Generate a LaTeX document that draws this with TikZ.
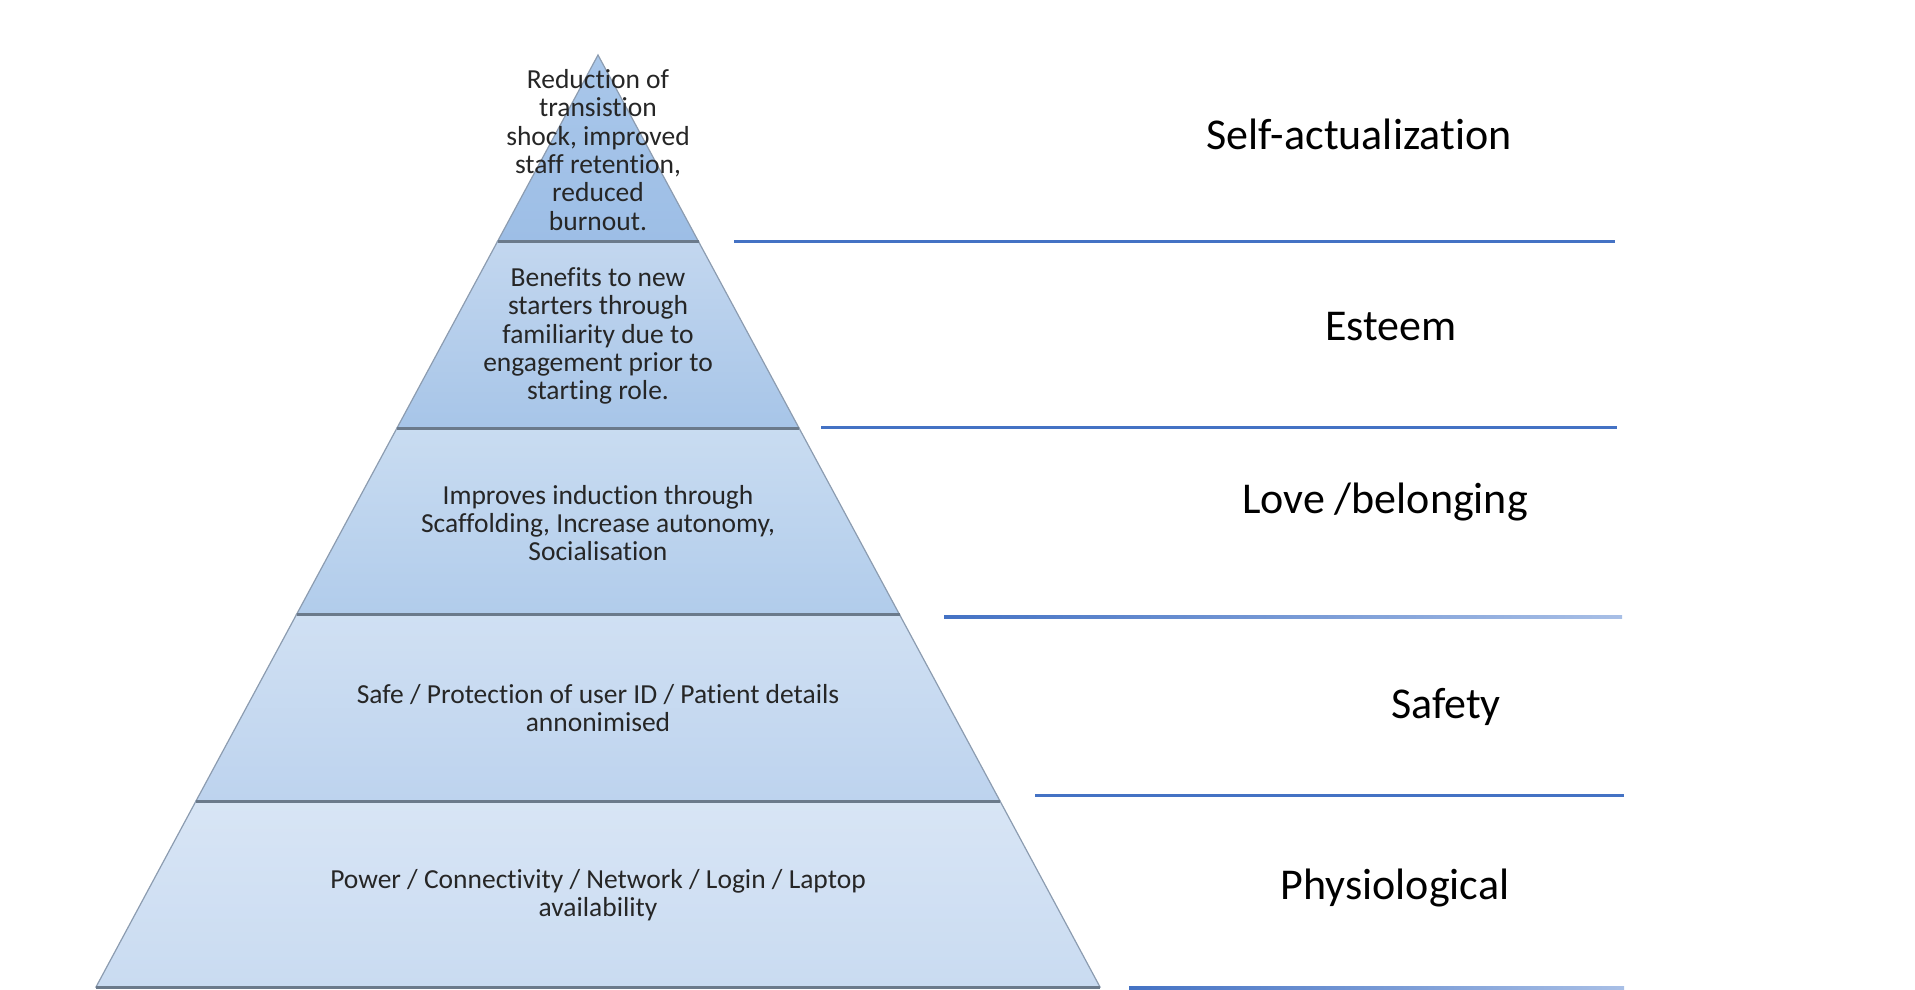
\documentclass[tikz,border=0pt]{standalone}
\usepackage{fontspec}
\setmainfont{Carlito}[Ligatures=NoCommon]
\usetikzlibrary{positioning}
\pgfdeclarelayer{nodelayer}
\pgfdeclarelayer{edgelayer}
\pgfsetlayers{edgelayer,nodelayer,main}
\definecolor{levelline}{HTML}{6B7A8B}
\definecolor{leveledge}{HTML}{8C9CB0}
\definecolor{ruleblue}{HTML}{4472C4}
\definecolor{rulefade}{HTML}{A8BFE6}
\definecolor{textgrey}{HTML}{262626}
\definecolor{topA}{HTML}{A9C7EA}
\definecolor{botA}{HTML}{9DBEE6}
\definecolor{topB}{HTML}{C3D7EF}
\definecolor{botB}{HTML}{A7C5E8}
\definecolor{topC}{HTML}{C9DCF1}
\definecolor{botC}{HTML}{B1CCEB}
\definecolor{topD}{HTML}{D0E0F3}
\definecolor{botD}{HTML}{BDD3EE}
\definecolor{topE}{HTML}{D8E5F5}
\definecolor{botE}{HTML}{C9DBF1}
\tikzstyle{level}=[draw=leveledge, line width=1.2pt]
\tikzstyle{divider}=[draw=levelline, line width=3pt]
\tikzstyle{level text}=[align=center, text=textgrey, font=\fontsize{27.5}{28.3}\selectfont]
\tikzstyle{level name}=[text=black, font=\fontsize{44}{50}\selectfont]
\tikzstyle{rule}=[draw=ruleblue, line width=3pt]
\tikzstyle{fading rule}=[left color=ruleblue, right color=rulefade]

\begin{document}
\begin{tikzpicture}[x=1pt, y=-1pt]
	\useasboundingbox (0, 0) rectangle (1915, 990);
	\begin{pgfonlayer}{edgelayer}
		% pyramid levels
		\path [style=level, top color=topA, bottom color=botA] (598, 55) -- (698.5, 241.5) -- (497.5, 241.5) -- cycle;
		\path [style=level, top color=topB, bottom color=botB] (497.5, 241.5) -- (698.5, 241.5) -- (799, 428) -- (397, 428) -- cycle;
		\path [style=level, top color=topC, bottom color=botC] (397, 428) -- (799, 428) -- (899.5, 614.5) -- (296.5, 614.5) -- cycle;
		\path [style=level, top color=topD, bottom color=botD] (296.5, 614.5) -- (899.5, 614.5) -- (1000, 801) -- (196, 801) -- cycle;
		\path [style=level, top color=topE, bottom color=botE] (196, 801) -- (1000, 801) -- (1100, 987) -- (96, 987) -- cycle;
		\draw [style=divider] (497.5, 241.5) -- (698.5, 241.5);
		\draw [style=divider] (397, 428) -- (799, 428);
		\draw [style=divider] (296.5, 614.5) -- (899.5, 614.5);
		\draw [style=divider] (196, 801) -- (1000, 801);
		\draw [style=divider] (96, 987) -- (1100, 987);
		% rules on the right
		\draw [style=rule] (734, 241) -- (1615, 241);
		\draw [style=rule] (821, 427) -- (1617, 427);
		\shade [style=fading rule] (944, 615.3) rectangle (1622, 618.7);
		\draw [style=rule] (1035, 795) -- (1624, 795);
		\shade [style=fading rule] (1129, 986.5) rectangle (1624, 989.8);
	\end{pgfonlayer}
	\begin{pgfonlayer}{nodelayer}
		\node [style=level text] (0) at (598, 150) {Reduction of\\transistion\\shock, improved\\staff retention,\\reduced\\burnout.};
		\node [style=level text] (1) at (598, 336) {Benefits to new\\starters through\\familiarity due to\\engagement prior to\\starting role.};
		\node [style=level text] (2) at (598, 523) {Improves induction through\\Scaffolding, Increase autonomy,\\Socialisation};
		\node [style=level text] (3) at (598, 708) {Safe / Protection of user ID / Patient details\\annonimised};
		\node [style=level text] (4) at (598, 895) {Power / Connectivity / Network / Login / Laptop\\availability};
		\node [style=level name] (5) at (1359, 134) {Self-actualization};
		\node [style=level name] (6) at (1391, 327) {Esteem};
		\node [style=level name] (7) at (1385, 502) {Love /belonging};
		\node [style=level name] (8) at (1446, 707) {Safety};
		\node [style=level name] (9) at (1395, 888) {Physiological};
	\end{pgfonlayer}
\end{tikzpicture}
\end{document}
